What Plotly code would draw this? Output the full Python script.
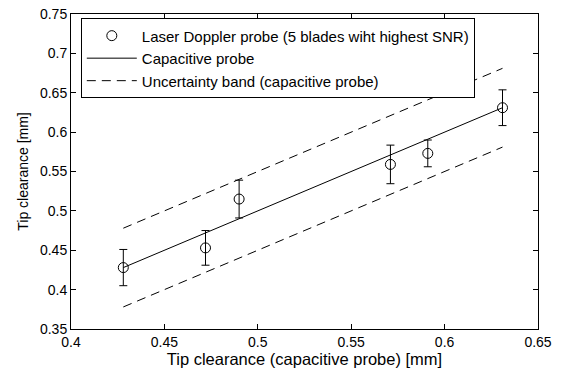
import plotly.graph_objects as go

cap_x = [0.428, 0.472, 0.490, 0.571, 0.591, 0.631]
laser_y = [0.428, 0.453, 0.515, 0.559, 0.573, 0.631]
laser_err = [0.023, 0.022, 0.024, 0.0245, 0.017, 0.0227]
band = 0.05

x_ticks = [0.4, 0.45, 0.5, 0.55, 0.6, 0.65]
x_ticklabels = ["0.4", "0.45", "0.5", "0.55", "0.6", "0.65"]
y_ticks = [0.35, 0.4, 0.45, 0.5, 0.55, 0.6, 0.65, 0.7, 0.75]
y_ticklabels = ["0.35", "0.4", "0.45", "0.5", "0.55", "0.6", "0.65", "0.7", "0.75"]

font_family = "Liberation Sans, Arial, sans-serif"

fig = go.Figure()

fig.add_trace(go.Scatter(
    x=cap_x, y=laser_y, mode="markers",
    name="Laser Doppler probe (5 blades wiht highest SNR)",
    marker=dict(symbol="circle-open", size=10, color="black", line=dict(width=1, color="black")),
    error_y=dict(type="data", array=laser_err, visible=True, color="black", thickness=1, width=4),
))
fig.add_trace(go.Scatter(
    x=cap_x, y=cap_x, mode="lines", name="Capacitive probe",
    line=dict(color="black", width=1),
))
fig.add_trace(go.Scatter(
    x=cap_x, y=[v + band for v in cap_x], mode="lines",
    name="Uncertainty band (capacitive probe)",
    line=dict(color="black", width=1, dash="9px,6px"),
))
fig.add_trace(go.Scatter(
    x=cap_x, y=[v - band for v in cap_x], mode="lines",
    name="Uncertainty band (capacitive probe)", showlegend=False,
    line=dict(color="black", width=1, dash="9px,6px"),
))

axis_common = dict(
    showgrid=False, zeroline=False, showline=True, linecolor="black", linewidth=1,
    mirror="ticks", ticks="inside", ticklen=5, tickcolor="black", tickwidth=1,
    tickfont=dict(family=font_family, size=14, color="black"),
    automargin=False, ticklabeloverflow="allow",
)

fig.update_layout(
    width=562, height=371,
    margin=dict(l=71, r=24, t=14, b=42),
    paper_bgcolor="white", plot_bgcolor="white",
    font=dict(family=font_family, size=14, color="black"),
    xaxis=dict(range=[0.4, 0.65], tickvals=x_ticks, ticktext=x_ticklabels,
               title=dict(text="Tip clearance (capacitive probe) [mm]", standoff=0,
                          font=dict(family=font_family, size=16.5)), **axis_common),
    yaxis=dict(range=[0.35, 0.75], tickvals=y_ticks, ticktext=y_ticklabels,
               title=dict(text="Tip clearance [mm]", standoff=8,
                          font=dict(family=font_family, size=14)), **axis_common),
    legend=dict(x=0.021, y=0.986, xanchor="left", yanchor="top",
                bordercolor="black", borderwidth=1, bgcolor="white",
                font=dict(family=font_family, size=15, color="black"),
                tracegroupgap=0, itemwidth=50),
    showlegend=True,
)

fig.write_html("out.html", config={"displayModeBar": False},
               post_script="document.body.style.margin='0px';")
